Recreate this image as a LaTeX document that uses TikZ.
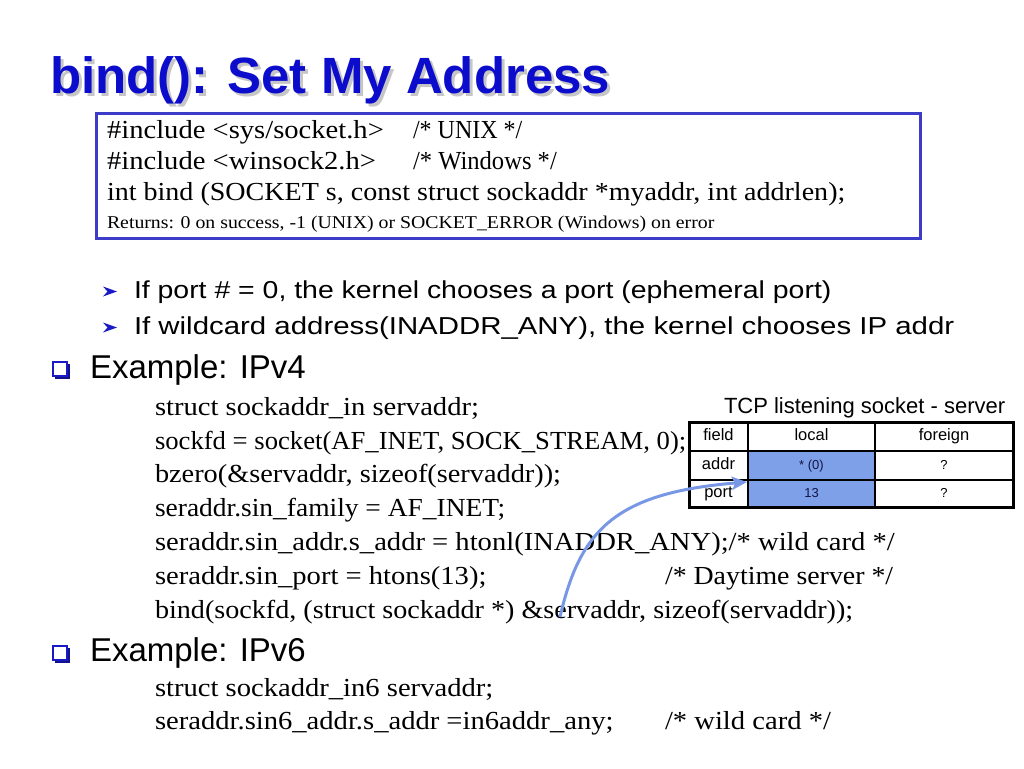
\documentclass[tikz,border=0pt]{standalone}
\usepackage{graphicx}
\usepackage{fontspec}
\setmainfont{Liberation Serif}[FakeStretch=1.1]
\setsansfont{Liberation Sans}
\usetikzlibrary{arrows.meta}
\definecolor{titleblue}{RGB}{12,12,204}
\definecolor{boxblue}{RGB}{60,60,200}
\definecolor{cellblue}{RGB}{125,160,232}
\definecolor{arrblue}{RGB}{120,152,230}
\definecolor{bulletblue}{RGB}{25,25,200}
\definecolor{navytext}{RGB}{20,20,70}
\newcommand{\hsq}[2]{\scalebox{#1}[1]{#2}}
\begin{document}
\begin{tikzpicture}[x=1pt,y=-1pt,
  txt/.style={anchor=base west,inner sep=0pt,outer sep=0pt},
  code/.style={txt,font=\fontsize{26}{30}\selectfont},
  small/.style={txt,font=\fontsize{18}{20}\selectfont},
  bul/.style={txt,font=\sffamily\fontsize{24.5}{28}\selectfont},
  head/.style={txt,font=\sffamily\fontsize{33}{40}\selectfont},
  cellbox/.style={draw=black,line width=1.2pt,anchor=north west,inner sep=0pt,outer sep=0pt,
     font=\sffamily\fontsize{16.5}{18}\selectfont,text height=12pt,text depth=3.5pt},
  datacell/.style={cellbox,font=\sffamily\fontsize{13}{15}\selectfont,text height=9.5pt,text depth=2.5pt},
  arrbullet/.style={fill=bulletblue},
  sqbullet/.style={draw=bulletblue,line width=1.6pt,fill=white}
 ]
\useasboundingbox (0,0) rectangle (1024,768);
\fill[white] (0,0) rectangle (1024,768);

% title
\node[txt,text=gray!45,font=\sffamily\bfseries\fontsize{51}{60}\selectfont] (titleshadow) at (53,96) {bind(): Set My Address};
\node[txt,text=titleblue,font=\sffamily\bfseries\fontsize{51}{60}\selectfont] (title) at (50,93) {bind(): Set My Address};

% prototype box
\draw[boxblue,line width=3pt,fill=white] (96,113) rectangle (920,238);
\node[code] (inc1) at (107,138) {\#include <sys/socket.h>};
\node[code] (com1) at (413,138) {\hsq{0.84}{/* UNIX */}};
\node[code] (inc2) at (107,169) {\#include <winsock2.h>};
\node[code] (com2) at (413,169) {\hsq{0.86}{/* Windows */}};
\node[code] (proto) at (107,200) {\hsq{0.981}{int bind (SOCKET s, const struct sockaddr *myaddr, int addrlen);}};
\node[small] (ret) at (107,228) {Returns: 0 on success, -1 (UNIX) or SOCKET\_ERROR (Windows) on error};

% arrow bullets
\fill[arrbullet] (103,286.5) -- (117,291.5) -- (103,296.5) -- (107.5,291.5) -- cycle;
\fill[arrbullet] (103,322.5) -- (117,327.5) -- (103,332.5) -- (107.5,327.5) -- cycle;
\node[bul] (b1) at (134,298) {\hsq{1.16}{If port \# = 0, the kernel chooses a port (ephemeral port)}};
\node[bul] (b2) at (134,334) {\hsq{1.20}{If wildcard address(INADDR\_ANY), the kernel chooses IP addr}};

% IPv4 example
\fill[bulletblue!70!black] (55,364) rectangle (70,379);
\draw[sqbullet] (53,362) rectangle (67,376);
\node[head] (ex4) at (90,378) {Example: IPv4};
\node[code] (c1) at (155,415) {struct sockaddr\_in servaddr;};
\node[code] (c2) at (155,449) {\hsq{0.932}{sockfd = socket(AF\_INET, SOCK\_STREAM, 0);}};
\node[code] (c3) at (155,482) {\hsq{0.99}{bzero(\&servaddr, sizeof(servaddr));}};
\node[code] (c4) at (155,516) {\hsq{0.96}{seraddr.sin\_family = AF\_INET;}};
\node[code] (c5) at (155,550) {seraddr.sin\_addr.s\_addr = htonl(INADDR\_ANY);/* wild card */};
\node[code] (c6) at (155,584) {seraddr.sin\_port = htons(13);};
\node[code] (c6c) at (665,584) {\hsq{0.974}{/* Daytime server */}};
\node[code] (c7) at (155,618) {\hsq{0.984}{bind(sockfd, (struct sockaddr *) \&servaddr, sizeof(servaddr));}};

% IPv6 example
\fill[bulletblue!70!black] (55,648) rectangle (70,663);
\draw[sqbullet] (53,646) rectangle (67,660);
\node[head] (ex6) at (90,661) {Example: IPv6};
\node[code] (d1) at (155,696) {struct sockaddr\_in6 servaddr;};
\node[code] (d2) at (155,729) {seraddr.sin6\_addr.s\_addr =in6addr\_any;};
\node[code] (d2c) at (665,729) {/* wild card */};

% table
\node[txt,font=\sffamily\fontsize{22}{26}\selectfont] (tcplabel) at (724,413) {TCP listening socket - server};
\node[cellbox,minimum width=59pt,minimum height=29pt] (hfield) at (689,422) {field};
\node[cellbox,minimum width=127pt,minimum height=29pt] (hlocal) at (748,422) {local};
\node[cellbox,minimum width=138pt,minimum height=29pt] (hforeign) at (875,422) {foreign};
\node[cellbox,minimum width=59pt,minimum height=29pt] (raddr) at (689,451) {addr};
\node[datacell,fill=cellblue,text=navytext,minimum width=127pt,minimum height=29pt] (laddr) at (748,451) {* (0)};
\node[datacell,minimum width=138pt,minimum height=29pt] (faddr) at (875,451) {?};
\node[cellbox,minimum width=59pt,minimum height=27pt] (rport) at (689,480) {port};
\node[datacell,fill=cellblue,text=navytext,minimum width=127pt,minimum height=27pt] (lport) at (748,480) {13};
\node[datacell,minimum width=138pt,minimum height=27pt] (fport) at (875,480) {?};
\draw[black,line width=3pt] (689,422) rectangle (1013,507);

% arrow
\coordinate (arrstart) at (560,617);
\draw[arrblue,line width=3pt,-{Stealth[length=15pt,width=13pt,inset=3pt]}]
  (arrstart) .. controls (580,530) and (615,493) .. ([xshift=-1pt,yshift=-2pt]lport.north west);
\end{tikzpicture}
\end{document}
